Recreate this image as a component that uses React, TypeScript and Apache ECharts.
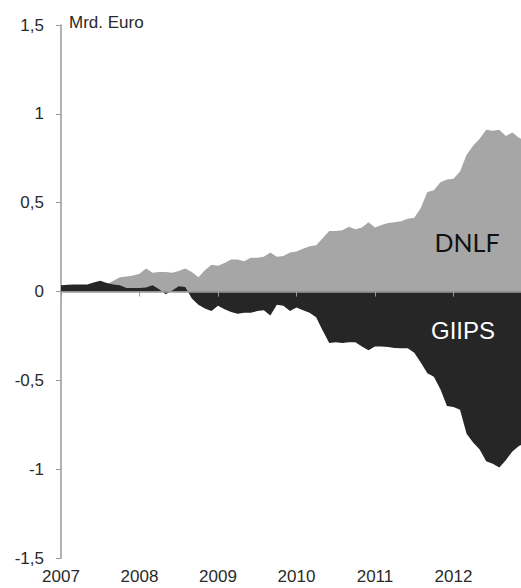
import React, { useEffect, useRef } from "react";
import * as echarts from "echarts";

// Monthly observations, Jan 2007 onward (Mrd. Euro)
const startYear = 2007;
const dnlf = [
  0.03, 0.03, 0.03, 0.03, 0.03, 0.04, 0.04, 0.04, 0.06, 0.08, 0.085, 0.09,
  0.1, 0.13, 0.105, 0.11, 0.11, 0.105, 0.115, 0.13, 0.11, 0.08, 0.12, 0.15,
  0.145, 0.16, 0.18, 0.18, 0.17, 0.19, 0.19, 0.195, 0.22, 0.195, 0.2, 0.22,
  0.225, 0.24, 0.255, 0.26, 0.3, 0.34, 0.34, 0.345, 0.365, 0.35, 0.36, 0.39,
  0.36, 0.375, 0.385, 0.39, 0.395, 0.41, 0.415, 0.47, 0.56, 0.57, 0.615, 0.63,
  0.635, 0.675, 0.77, 0.82, 0.86, 0.91, 0.905, 0.91, 0.875, 0.895, 0.865, 0.85,
];
const giips = [
  0.035, 0.038, 0.04, 0.04, 0.04, 0.05, 0.06, 0.048, 0.04, 0.035, 0.02, 0.02,
  0.02, 0.022, 0.035, 0.012, -0.015, 0.005, 0.03, 0.025, -0.04, -0.075, -0.095, -0.11,
  -0.08, -0.1, -0.115, -0.125, -0.12, -0.12, -0.11, -0.105, -0.135, -0.075, -0.08, -0.11,
  -0.09, -0.105, -0.12, -0.145, -0.22, -0.29, -0.285, -0.29, -0.285, -0.285, -0.31, -0.33,
  -0.31, -0.31, -0.312, -0.318, -0.32, -0.32, -0.345, -0.4, -0.46, -0.48, -0.55, -0.645,
  -0.65, -0.665, -0.8, -0.85, -0.89, -0.955, -0.97, -0.99, -0.95, -0.9, -0.87, -0.85,
];
const seriesNames = ["DNLF", "GIIPS"];
const unitLabel = "Mrd. Euro";

const toPairs = (vals: number[]) => vals.map((v, i) => [startYear + i / 12, v]);

export default function App() {
  const ref = useRef<HTMLDivElement>(null);
  useEffect(() => {
    if (!ref.current) return;
    const chart = echarts.init(ref.current, null, { renderer: "svg" });
    const axisFont = { fontFamily: "Liberation Sans", fontSize: 17, color: "#2a2a2a" };
    chart.setOption({
      animation: false,
      backgroundColor: "#ffffff",
      grid: { left: 61, right: 0, top: 25, bottom: 30, outerBoundsMode: "none", containLabel: false },
      xAxis: [
        {
          type: "value",
          position: "bottom",
          min: 2007,
          max: 2012.86,
          interval: 1,
          axisLine: { show: false, onZero: false },
          axisTick: { show: false },
          splitLine: { show: false },
          axisLabel: {
            ...axisFont,
            margin: 10,
            lineHeight: 17,
            showMaxLabel: false,
            formatter: (v: number) => String(Math.round(v)),
          },
        },
        {
          type: "value",
          position: "top",
          min: 2007,
          max: 2012.86,
          interval: 1,
          z: 10,
          axisLine: { show: true, onZero: true, lineStyle: { color: "#9a9a9a", width: 1.5 } },
          axisTick: { show: true, inside: true, length: 5, lineStyle: { color: "#9a9a9a" } },
          axisLabel: { show: false },
          splitLine: { show: false },
        },
      ],
      yAxis: {
        type: "value",
        min: -1.5,
        max: 1.5,
        interval: 0.5,
        axisLine: { show: true, onZero: false, lineStyle: { color: "#9a9a9a", width: 1.5 } },
        axisTick: { show: true, length: 5, lineStyle: { color: "#9a9a9a" } },
        splitLine: { show: false },
        axisLabel: {
          ...axisFont,
          margin: 17,
          formatter: (v: number) => String(v).replace(".", ","),
        },
      },
      series: [
        {
          name: seriesNames[0],
          type: "line",
          xAxisIndex: 0,
          data: toPairs(dnlf),
          showSymbol: false,
          lineStyle: { width: 0 },
          itemStyle: { color: "#a6a6a6" },
          areaStyle: { color: "#a6a6a6", opacity: 1 },
        },
        {
          name: seriesNames[1],
          type: "line",
          xAxisIndex: 0,
          data: toPairs(giips),
          showSymbol: false,
          lineStyle: { width: 0 },
          itemStyle: { color: "#262626" },
          areaStyle: { color: "#262626", opacity: 1 },
        },
      ],
      graphic: [
        {
          type: "text",
          left: 69,
          top: 14,
          style: { text: unitLabel, fontFamily: "Liberation Sans", fontSize: 17, fill: "#2a2a2a" },
        },
        {
          type: "text",
          x: 467,
          y: 242,
          z: 20,
          style: {
            text: seriesNames[0],
            fontFamily: "Lato",
            fontSize: 25,
            fill: "#111111",
            align: "center",
            verticalAlign: "middle",
          },
        },
        {
          type: "text",
          x: 463,
          y: 330,
          z: 20,
          style: {
            text: seriesNames[1],
            fontFamily: "Liberation Sans",
            fontSize: 24,
            fill: "#ffffff",
            align: "center",
            verticalAlign: "middle",
          },
        },
      ],
    });
    return () => chart.dispose();
  }, []);
  return (
    <div
      ref={ref}
      style={{ position: "fixed", left: 0, top: 0, width: 521, height: 588 }}
    />
  );
}
